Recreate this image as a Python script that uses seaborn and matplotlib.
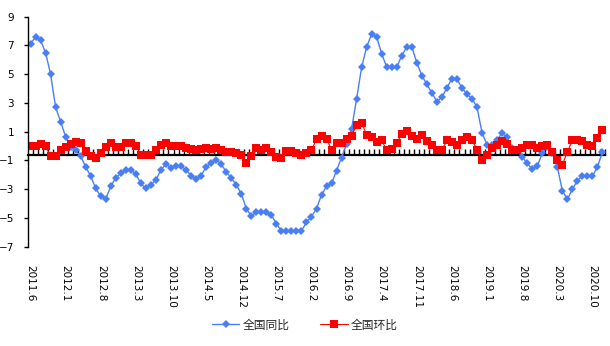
import numpy as np
import pandas as pd
import matplotlib
matplotlib.use("Agg")
import matplotlib.pyplot as plt
import seaborn as sns

# Monthly index, 2011.6 – 2020.12
months = [f"{p.year}.{p.month}" for p in pd.period_range("2011-06", "2020-12", freq="M")]

# 全国同比 (year-on-year, %)
yoy = [7.1, 7.6, 7.35, 6.5, 5.0, 2.7, 1.7, 0.65, -0.05, -0.3,
       -0.7, -1.45, -2.1, -2.95, -3.5, -3.65, -2.8, -2.2, -1.9, -1.65,
       -1.65, -1.95, -2.6, -2.95, -2.7, -2.35, -1.65, -1.25, -1.5, -1.4,
       -1.4, -1.65, -2.05, -2.3, -2.05, -1.45, -1.15, -0.95, -1.25, -1.8,
       -2.2, -2.7, -3.3, -4.35, -4.85, -4.6, -4.6, -4.6, -4.8, -5.4,
       -5.9, -5.9, -5.9, -5.9, -5.9, -5.3, -4.9, -4.35, -3.4, -2.8,
       -2.6, -1.7, -0.8, 0.15, 1.2, 3.3, 5.5, 6.9, 7.8, 7.6,
       6.4, 5.5, 5.5, 5.5, 6.3, 6.9, 6.9, 5.8, 4.9, 4.3,
       3.7, 3.1, 3.4, 4.05, 4.7, 4.65, 4.05, 3.6, 3.3, 2.7,
       0.9, 0.1, 0.1, 0.45, 0.9, 0.6, -0.1, -0.3, -0.75, -1.2,
       -1.6, -1.4, -0.5, -0.05, -0.5, -1.45, -3.1, -3.7, -3.0, -2.4,
       -2.05, -2.1, -2.1, -1.45, -0.4]

# 全国环比 (month-on-month, %)
mom = [0.0, 0.0, 0.15, 0.0, -0.7, -0.7, -0.25, -0.05, 0.15, 0.3,
       0.2, -0.35, -0.7, -0.8, -0.5, -0.05, 0.2, -0.05, -0.05, 0.2,
       0.2, 0.0, -0.6, -0.6, -0.6, -0.3, 0.1, 0.2, 0.0, 0.0,
       0.0, -0.1, -0.2, -0.3, -0.2, -0.1, -0.2, -0.1, -0.25, -0.4,
       -0.4, -0.5, -0.6, -1.15, -0.7, -0.1, -0.3, -0.1, -0.4, -0.75,
       -0.8, -0.35, -0.35, -0.5, -0.6, -0.5, -0.3, 0.5, 0.7, 0.5,
       -0.25, 0.2, 0.2, 0.5, 0.7, 1.5, 1.6, 0.8, 0.6, 0.3,
       0.4, -0.3, -0.2, 0.2, 0.85, 1.05, 0.7, 0.5, 0.8, 0.35,
       0.1, -0.25, -0.25, 0.4, 0.3, 0.1, 0.4, 0.6, 0.4, -0.25,
       -1.0, -0.6, -0.1, 0.1, 0.35, 0.15, -0.3, -0.25, -0.1, 0.1,
       0.1, -0.1, 0.0, 0.1, -0.4, -1.0, -1.3, -0.4, 0.4, 0.4,
       0.35, 0.1, 0.0, 0.55, 1.1]

series_names = ["全国同比", "全国环比"]
y_ticks = [-7, -5, -3, -1, 1, 3, 5, 7, 9]
baseline = -0.6          # where the category axis crosses the value axis
label_step = 7           # one date label every seven months

sns.set_theme(style="white")
plt.rcParams["font.family"] = ["DejaVu Sans", "Noto Sans CJK SC"]

df = pd.DataFrame({"pos": np.arange(len(months)), "month": months,
                   series_names[0]: yoy, series_names[1]: mom})

fig = plt.figure(figsize=(6.10, 3.46), dpi=100)
ax = fig.add_axes([28 / 610, 99.3 / 346, 577 / 610, 230 / 346])

sns.lineplot(data=df, x="pos", y=series_names[0], ax=ax, color="#4A7EF5",
             linewidth=1.0, marker="D", markersize=3.6, markeredgewidth=0,
             label=series_names[0])
sns.lineplot(data=df, x="pos", y=series_names[1], ax=ax, color="#FF0000",
             linewidth=0.8, marker="s", markersize=5.2, markeredgewidth=0,
             label=series_names[1])

ymin, ymax = y_ticks[0], y_ticks[-1]
ax.set_xlim(-0.5, len(months) - 0.5)
ax.set_ylim(ymin, ymax)
ax.set_xlabel("")
ax.set_ylabel("")

# value axis on the left
for side in ["top", "right", "bottom"]:
    ax.spines[side].set_visible(False)
ax.spines["left"].set_color("black")
ax.spines["left"].set_linewidth(1.0)
ax.set_yticks(y_ticks)
ax.tick_params(axis="y", left=True, direction="out", length=3, width=1,
               color="black", labelsize=7.5, labelcolor="black", pad=7)

# date labels sit below the plot area
ax.set_xticks(df["pos"][::label_step])
ax.set_xticklabels(df["month"][::label_step], rotation=270)
ax.tick_params(axis="x", bottom=True, length=0, labelsize=7.5,
               labelcolor="black", pad=13)
for lbl in ax.get_xticklabels():
    lbl.set_va("top")
    lbl.set_ha("center")

# category axis line drawn at the crossing value, ticks between months
sec = ax.secondary_xaxis((baseline - ymin) / (ymax - ymin))
sec.spines["bottom"].set_color("black")
sec.spines["bottom"].set_linewidth(1.6)
sec.set_xticks(np.arange(len(months)) + 0.5)
sec.tick_params(axis="x", bottom=True, direction="in", length=4, width=1,
                color="black", labelbottom=False)

ax.grid(False)
handles, labels = ax.get_legend_handles_labels()
ax.get_legend().remove()
fig.legend(handles, labels, loc="center", bbox_to_anchor=(0.5, 21 / 346),
           ncol=2, frameon=False, fontsize=8.5, handlelength=2.3,
           handletextpad=0.3, columnspacing=2.6)

fig.savefig("out.png", dpi=100, facecolor="white")
